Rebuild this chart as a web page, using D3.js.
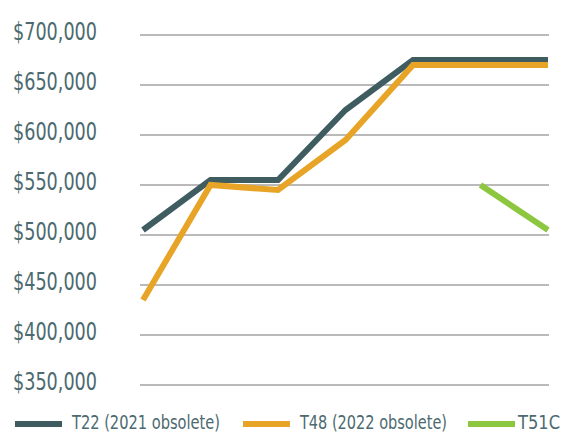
<!DOCTYPE html>
<html>
<head>
<meta charset="utf-8">
<script src="https://cdn.jsdelivr.net/npm/d3@7"></script>
<style>
  html, body { margin: 0; padding: 0; background: #ffffff; }
  svg { display: block; }
  text { font-family: "Liberation Sans Narrow", "DejaVu Sans Condensed", "Roboto", sans-serif; }
</style>
</head>
<body>
<svg id="chart" width="565" height="434"></svg>
<script>
// Periods along the x axis (unlabelled in the chart)
const periods = [1, 2, 3, 4, 5, 6, 7];

// Series values (USD)
const t22Values = [505000, 555000, 555000, 625000, 675000, 675000, 675000];
const t48Values = [435000, 550000, 545000, 595000, 670000, 670000, 670000];
const t51cValues = [null, null, null, null, null, 550000, 505000];

// Y axis ticks
const yTicks = [350000, 400000, 450000, 500000, 550000, 600000, 650000, 700000];

const seriesNames = ["T22 (2021 obsolete)", "T48 (2022 obsolete)", "T51C"];
const seriesColors = ["#3f5d61", "#e8a426", "#8dc63f"];
const seriesValues = [t22Values, t48Values, t51cValues];

const svg = d3.select("#chart");
const textColor = "#4c6a6f";

const x = d3.scalePoint().domain(periods).range([143, 548]);
const y = d3.scaleLinear().domain([350000, 700000]).range([385, 35]);

// Horizontal gridlines
svg.append("g")
  .selectAll("line")
  .data(yTicks)
  .join("line")
  .attr("x1", 140).attr("x2", 549)
  .attr("y1", d => y(d)).attr("y2", d => y(d))
  .attr("stroke", "#a3a3a3")
  .attr("stroke-width", 1.6);

// Y axis labels
const fmt = d3.format("$,.0f");
svg.append("g")
  .selectAll("text")
  .data(yTicks)
  .join("text")
  .attr("x", 97)
  .attr("y", d => y(d) + 5)
  .attr("text-anchor", "end")
  .attr("font-size", 25)
  .attr("textLength", 84)
  .attr("lengthAdjust", "spacingAndGlyphs")
  .attr("fill", textColor)
  .text(d => fmt(d));

// Lines
const line = d3.line()
  .defined(d => d.v !== null)
  .x(d => x(d.p))
  .y(d => y(d.v));

seriesValues.forEach((vals, i) => {
  svg.append("path")
    .datum(periods.map((p, j) => ({ p, v: vals[j] })))
    .attr("d", line)
    .attr("fill", "none")
    .attr("stroke", seriesColors[i])
    .attr("stroke-width", 6)
    .attr("stroke-linejoin", "miter");
});

// Legend
const legendItems = [
  { sx: 15, tx: 72, tw: 148 },
  { sx: 243, tx: 300, tw: 147 },
  { sx: 468, tx: 518, tw: 42 }
];
const legend = svg.append("g");
legendItems.forEach((it, i) => {
  legend.append("line")
    .attr("x1", it.sx).attr("x2", it.sx + 47)
    .attr("y1", 424).attr("y2", 424)
    .attr("stroke", seriesColors[i])
    .attr("stroke-width", 6);
  legend.append("text")
    .attr("x", it.tx)
    .attr("y", 429)
    .attr("font-size", 20)
    .attr("textLength", it.tw)
    .attr("lengthAdjust", "spacingAndGlyphs")
    .attr("fill", textColor)
    .text(seriesNames[i]);
});
</script>
</body>
</html>
